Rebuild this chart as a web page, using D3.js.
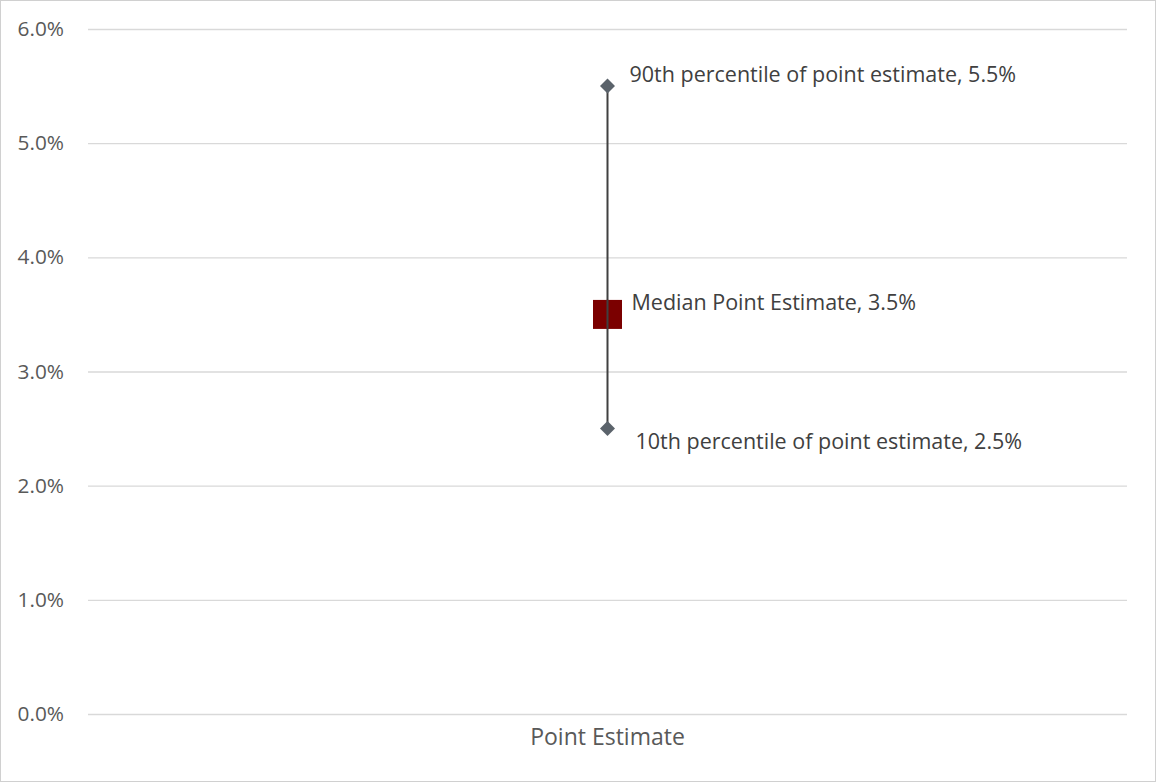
<!DOCTYPE html>
<html><head><meta charset="utf-8">
<script src="https://cdn.jsdelivr.net/npm/d3@7"></script>
<style>body{margin:0;background:#fff}svg{display:block}</style>
</head><body><svg id="c" width="1156" height="782"></svg>
<script>
const categories = ["Point Estimate"];
const yTicks = [0, 0.01, 0.02, 0.03, 0.04, 0.05, 0.06];
const median = [0.035];
const p10 = [0.025];
const p90 = [0.055];
const labels = {
  p90: "90th percentile of point estimate, 5.5%",
  median: "Median Point Estimate, 3.5%",
  p10: "10th percentile of point estimate, 2.5%"
};

const svg = d3.select("#c");
const W = 1156, H = 782;
const m = {left: 88, right: 29, top: 29, bottom: 68};
const font = "'Open Sans', sans-serif";

svg.append("rect").attr("x",0.5).attr("y",0.5).attr("width",W-1).attr("height",H-1)
  .attr("fill","#fff").attr("stroke","#d0d0d0");

const x = d3.scaleBand().domain(categories).range([m.left, W-m.right]);
const y = d3.scaleLinear().domain([0,0.06]).range([H-m.bottom, m.top]);

const yAxis = svg.append("g").attr("transform",`translate(${m.left},0)`)
  .call(d3.axisLeft(y).tickValues(yTicks).tickFormat(d3.format(".1%")).tickSize(-(W-m.left-m.right)).tickPadding(24));
yAxis.select(".domain").remove();
yAxis.selectAll("line").attr("stroke","#d9d9d9").attr("stroke-width",1.3);
yAxis.selectAll("text").attr("fill","#595959").style("font-family",font).style("font-size","20.8px");

const xAxis = svg.append("g").attr("transform",`translate(0,${H-m.bottom})`)
  .call(d3.axisBottom(x).tickSize(0).tickPadding(15));
xAxis.select(".domain").remove();
xAxis.selectAll("text").attr("fill","#595959").style("font-family",font).style("font-size","23px");

const g = svg.append("g");
categories.forEach((c,i)=>{
  const cx = x(c) + x.bandwidth()/2;
  g.append("line").attr("x1",cx).attr("x2",cx).attr("y1",y(p90[i])).attr("y2",y(p10[i]))
    .attr("stroke","#404040").attr("stroke-width",2);
  [p90[i], p10[i]].forEach(v=>{
    g.append("path").attr("d", d3.symbol().type(d3.symbolSquare).size(112)())
      .attr("transform",`translate(${cx},${y(v)}) rotate(45)`).attr("fill","#5b636b");
  });
  const s = 29;
  g.append("rect").attr("x",cx-s/2).attr("y",y(median[i])-s/2).attr("width",s).attr("height",s)
    .attr("fill","#7b0000");
  g.append("line").attr("x1",cx).attr("x2",cx).attr("y1",y(median[i])-s/2).attr("y2",y(median[i])+s/2)
    .attr("stroke","#404040").attr("stroke-width",2);

  const t = (txt, xx, yy) => g.append("text").attr("x",xx).attr("y",yy).text(txt)
    .attr("fill","#404040").style("font-family",font).style("font-size","21.5px").attr("dominant-baseline","middle");
  t(labels.p90, cx+22, y(p90[i])-10);
  t(labels.median, cx+24, y(median[i])-10);
  t(labels.p10, cx+28, y(p10[i])+15);
});
</script></body></html>
